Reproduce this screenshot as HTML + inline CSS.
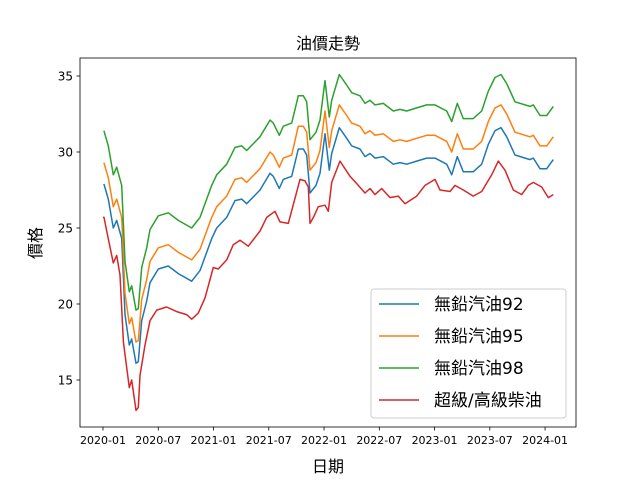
<!DOCTYPE html>
<html><head><meta charset="utf-8"><style>
body{margin:0;background:#fff}
svg{font-family:"DejaVu Sans","Noto Sans CJK TC",sans-serif}
</style></head><body>
<svg id="c" width="640" height="480"></svg>
<script>
const months92=[0.1,0.58,1.12,1.49,2.03,2.39,2.86,3.12,3.58,3.83,4.2,4.74,5.1,6.0,7.09,8.18,9.63,10.53,11.8,12.35,13.43,14.33,15.06,15.6,17.05,18.13,18.49,19.14,19.58,20.49,21.21,21.75,22.12,22.48,23.13,23.56,24.1,24.57,24.83,25.66,26.46,27.0,27.9,28.45,28.99,29.53,30.43,31.52,32.25,32.97,34.06,35.15,36.05,37.32,37.86,38.47,39.12,40.2,41.12,41.84,42.56,43.21,43.83,44.73,46.36,46.72,47.45,48.18,48.89];
const gas92=[27.9,26.9,25.0,25.5,24.3,19.3,17.3,17.7,16.1,16.2,18.9,20.2,21.4,22.3,22.5,22.0,21.5,22.2,24.3,25.0,25.7,26.8,26.9,26.6,27.5,28.6,28.4,27.6,28.2,28.4,30.2,30.2,29.8,27.3,27.8,28.6,31.2,28.8,29.9,31.6,30.9,30.4,30.2,29.7,29.9,29.6,29.7,29.2,29.3,29.2,29.4,29.6,29.6,29.2,28.5,29.7,28.7,28.7,29.2,30.5,31.4,31.6,31.0,29.8,29.5,29.6,28.9,28.9,29.5];
const gas95=[29.3,28.3,26.4,26.9,25.7,20.7,18.7,19.1,17.5,17.6,20.3,21.6,22.8,23.7,23.9,23.4,22.9,23.6,25.7,26.4,27.1,28.2,28.3,28.0,28.9,30.0,29.8,29.0,29.6,29.8,31.7,31.7,31.3,28.8,29.3,30.1,32.7,30.3,31.4,33.1,32.4,31.9,31.7,31.2,31.4,31.1,31.2,30.7,30.8,30.7,30.9,31.1,31.1,30.7,30.0,31.2,30.2,30.2,30.7,32.0,32.9,33.1,32.5,31.3,31.0,31.1,30.4,30.4,31.0];
const gas98=[31.4,30.4,28.5,29.0,27.8,22.8,20.8,21.2,19.6,19.7,22.4,23.7,24.9,25.8,26.0,25.5,25.0,25.7,27.8,28.5,29.2,30.3,30.4,30.1,31.0,32.1,31.9,31.1,31.7,31.9,33.7,33.7,33.3,30.8,31.3,32.1,34.7,32.3,33.4,35.1,34.4,33.9,33.7,33.2,33.4,33.1,33.2,32.7,32.8,32.7,32.9,33.1,33.1,32.7,32.0,33.2,32.2,32.2,32.7,34.0,34.9,35.1,34.5,33.3,33.0,33.1,32.4,32.4,33.0];
const monthsDiesel=[0,0.11,0.40,1.12,1.49,1.85,2.21,2.86,3.12,3.58,3.83,4.02,4.56,5.1,5.83,6.91,8.0,9.08,9.63,10.35,11.07,11.98,12.52,13.43,14.15,14.88,15.78,17.05,17.77,18.67,19.22,20.12,21.39,21.93,22.29,22.48,22.84,23.38,24.1,24.46,24.83,25.73,26.82,27.72,28.45,28.99,29.53,30.26,31.16,32.06,32.79,34.06,34.96,36.05,36.59,37.68,38.22,39.12,40.2,41.12,42.2,42.92,43.65,44.55,45.46,46.18,46.72,47.63,48.35,48.89];
const diesel=[25.7,25.7,24.8,22.7,23.2,21.9,17.5,14.5,15.0,13.0,13.2,15.3,17.3,18.9,19.6,19.8,19.5,19.3,19.0,19.4,20.4,22.4,22.3,22.9,23.9,24.2,23.8,24.8,25.7,26.1,25.4,25.3,28.2,28.1,27.7,25.3,25.7,26.4,26.5,26.1,28.0,29.4,28.4,27.8,27.3,27.6,27.2,27.6,27.0,27.1,26.6,27.1,27.8,28.2,27.5,27.4,27.8,27.5,27.1,27.4,28.5,29.4,28.8,27.5,27.2,27.8,28.0,27.7,27.0,27.2];
const xTickMonths=[0,6,12,18,24,30,36,42,48];
const xTickLabels=["2020-01","2020-07","2021-01","2021-07","2022-01","2022-07","2023-01","2023-07","2024-01"];
const yTicks=[15,20,25,30,35];
const seriesNames=["無鉛汽油92","無鉛汽油95","無鉛汽油98","超級/高級柴油"];
const colors=["#1f77b4","#ff7f0e","#2ca02c","#d62728"];

const L=80,R=576,T=58,B=427;
const xs=m=>103+m*9.21;
const ys=v=>304-(v-20)*15.2;
const svg=document.getElementById('c');
const NS="http://www.w3.org/2000/svg";
function mk(tag,attrs,parent){const e=document.createElementNS(NS,tag);for(const k in attrs)e.setAttribute(k,attrs[k]);(parent||svg).appendChild(e);return e;}

const series=[[months92,gas92],[months92,gas95],[months92,gas98],[monthsDiesel,diesel]];
const keys=["gas92","gas95","gas98","diesel"];
series.forEach((s,i)=>{
  const d=s[0].map((m,j)=>(j?"L":"M")+xs(m).toFixed(1)+","+ys(s[1][j]).toFixed(1)).join("");
  const p=mk('path',{d:d,fill:"none",stroke:colors[i],"stroke-width":1.5,"stroke-linejoin":"round"});
  
  
});
const frame=mk('rect',{x:L,y:T,width:R-L,height:B-T,fill:"none",stroke:"#000","stroke-width":0.8});


xTickMonths.forEach((m,i)=>{
  const x=xs(m);
  mk('line',{x1:x,x2:x,y1:B,y2:B+3.5,stroke:"#000","stroke-width":0.8});
  const t=mk('text',{x:x,y:B+17,"font-size":"11","text-anchor":"middle"});
  t.textContent=xTickLabels[i];
  
  
});
yTicks.forEach(v=>{
  const y=ys(v);
  mk('line',{x1:L-3.5,x2:L,y1:y,y2:y,stroke:"#000","stroke-width":0.8});
  const t=mk('text',{x:L-7,y:y+4.5,"font-size":"12","text-anchor":"end"});
  t.textContent=v;
  
  
});
const title=mk('text',{x:328,y:49,"font-size":"16","text-anchor":"middle"});
title.textContent="油價走勢";


const xl=mk('text',{x:328,y:472,"font-size":"16","text-anchor":"middle"});
xl.textContent="日期";


const yl=mk('text',{x:0,y:0,"font-size":"16","text-anchor":"middle",transform:"translate(41,243) rotate(-90)"});
yl.textContent="價格";


const lg=mk('g',{});


mk('rect',{x:371,y:289,width:195,height:129,rx:3,fill:"#fff","fill-opacity":0.8,stroke:"#ccc"},lg);
seriesNames.forEach((n,i)=>{
  const y=304+i*32;
  const ln=mk('line',{x1:379,x2:419,y1:y,y2:y,stroke:colors[i],"stroke-width":1.5},lg);
  
  
  const t=mk('text',{x:434,y:y+6,"font-size":"17"},lg);
  t.textContent=n;
  
  
});
</script>
</body></html>
